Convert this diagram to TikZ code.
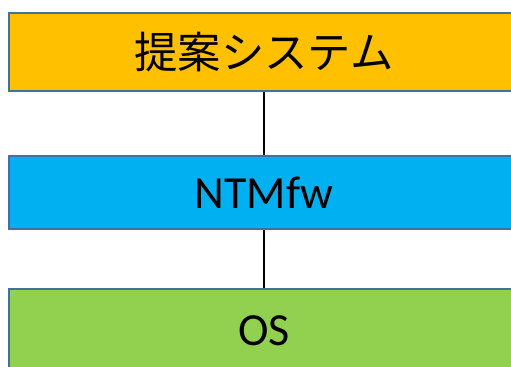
\documentclass[tikz,border=0pt]{standalone}
\usepackage{fontspec}
\setmainfont{Carlito}
\newfontfamily\cjk{Noto Sans CJK JP}
\definecolor{layerline}{HTML}{41719C}
\definecolor{sysorange}{HTML}{FFC000}
\definecolor{fwblue}{HTML}{00B0F0}
\definecolor{osgreen}{HTML}{92D050}
\tikzset{
  layer/.style={draw=layerline, line width=2pt, minimum width=382.5pt, inner sep=0pt, font=\fontsize{34.5}{40}\selectfont},
}
\begin{document}
\begin{tikzpicture}[x=0.75pt,y=0.75pt,yscale=-1,xscale=1]
\useasboundingbox (0,0) rectangle (511,367);

\node [layer, fill=sysorange, minimum height=58.5pt] (sys) at (264, 52) {\cjk\fontsize{32.5}{38}\selectfont 提案システム};
\node [layer, fill=fwblue, minimum height=54.75pt] (fw) at (264, 192.5) {NTMfw};
\node [layer, fill=osgreen, minimum height=63pt] (os) at (264, 331) {OS};

\draw [line width=1.5pt] (sys) -- (fw);
\draw [line width=1.5pt] (fw) -- (os);

\end{tikzpicture}
\end{document}
